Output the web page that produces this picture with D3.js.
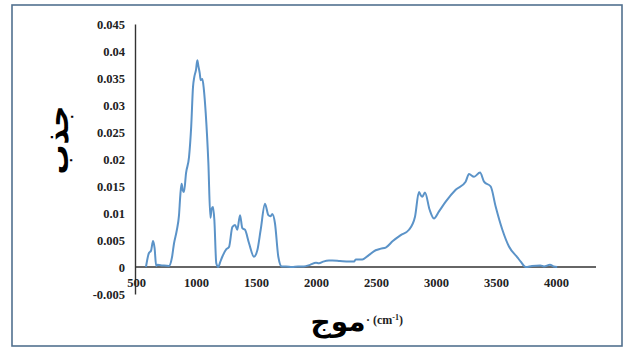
<!DOCTYPE html>
<html><head><meta charset="utf-8">
<script src="https://cdn.jsdelivr.net/npm/d3@7"></script>
<style>body{margin:0;background:#fff}svg{display:block}</style>
</head><body>
<svg id="c" width="633" height="349"></svg>
<script>
const wavenumbers = [583,608,625,642,655,668,680,720,775,800,817,840,858,870,880,890,900,917,942,960,975,986,1000,1011,1020,1031,1039,1053,1065,1081,1103,1120,1131,1142,1153,1169,1186,1200,1219,1253,1275,1303,1325,1344,1367,1386,1408,1442,1483,1511,1539,1575,1603,1620,1636,1658,1686,1714,1750,1800,1850,1900,1950,2000,2025,2060,2108,2136,2200,2275,2317,2331,2386,2440,2497,2540,2581,2640,2706,2775,2825,2858,2872,2886,2908,2947,2983,3025,3081,3164,3247,3275,3317,3367,3400,3456,3497,3553,3608,3678,3706,3747,3800,3870,3900,3950,3980,4010];
const absorbance = [0,0.0026,0.003,0.0048,0.0035,0.0002,0.0004,0.0003,0.0002,0.0018,0.0044,0.0068,0.0095,0.0135,0.0154,0.0142,0.0139,0.0174,0.0204,0.026,0.0333,0.0352,0.0365,0.0383,0.0372,0.0359,0.0346,0.0348,0.033,0.0285,0.0193,0.0091,0.0108,0.0111,0.0087,0.0007,0,0.0008,0.0019,0.0033,0.0037,0.0074,0.0078,0.0069,0.0096,0.0072,0.0069,0.0044,0.0019,0.0031,0.0069,0.0117,0.0096,0.0094,0.0098,0.0081,0.0019,0.0001,0.0001,0,0.0001,0.0001,0.0004,0.0008,0.0007,0.001,0.0012,0.0012,0.0011,0.001,0.001,0.0014,0.0014,0.0022,0.0031,0.0034,0.0036,0.0048,0.0059,0.0069,0.0093,0.0139,0.0133,0.013,0.0138,0.0106,0.009,0.0103,0.0121,0.0143,0.0158,0.0172,0.0167,0.0175,0.0158,0.0149,0.0112,0.0069,0.0038,0.0018,0.001,0,0.0002,0.0003,0.0001,0.0004,0.0001,0];
const xTicks = [500,1000,1500,2000,2500,3000,3500,4000];
const xTickLabels = ["500","1000","1500","2000","2500","3000","3500","4000"];
const yTicks = [-0.005,0,0.005,0.01,0.015,0.02,0.025,0.03,0.035,0.04,0.045];
const yTickLabels = ["-0.005","0","0.005","0.01","0.015","0.02","0.025","0.03","0.035","0.04","0.045"];
const yTitle = "جذب";
const xTitle = "موج";
const xUnit = "· (cm";

const svg = d3.select("#c");
svg.append("rect").attr("x",12).attr("y",5).attr("width",610).attr("height",341)
  .attr("fill","#fff").attr("stroke","#52718f").attr("stroke-width",1.6);

const x = d3.scaleLinear().domain([500,4325]).range([136,595]);
const y = d3.scaleLinear().domain([-0.005,0.045]).range([294,24]);

const tickFont = "'Liberation Serif', 'Times New Roman', serif";

const yAxis = svg.append("g").attr("transform","translate(135,0)")
  .call(d3.axisLeft(y).tickValues(yTicks).tickSize(0).tickPadding(10)
    .tickFormat((d,i)=>yTickLabels[i]));
const xAxis = svg.append("g").attr("transform",`translate(0,${y(0)})`)
  .call(d3.axisBottom(x).tickValues(xTicks).tickSize(0).tickPadding(11)
    .tickFormat((d,i)=>xTickLabels[i]));
[xAxis,yAxis].forEach(g=>{
  g.select(".domain").attr("stroke","#333").attr("stroke-width",1.4);
  g.selectAll("text").attr("font-family",tickFont).attr("font-weight","bold")
   .attr("font-size","12.5px").attr("fill","#222");
});
xAxis.select(".domain").attr("d",`M136,0H596`);

const line = d3.line().x((d,i)=>x(wavenumbers[i])).y(d=>y(d)).curve(d3.curveMonotoneX);
svg.append("path").datum(absorbance).attr("d",line)
  .attr("fill","none").attr("stroke","#5b93c8").attr("stroke-width",2)
  .attr("stroke-linejoin","round");

svg.append("text").attr("transform","translate(68,140) rotate(-90)")
  .attr("text-anchor","middle").attr("font-family","'DejaVu Sans', 'Noto Sans', sans-serif")
  .attr("font-weight","bold").attr("font-size","30px").attr("fill","#000").text(yTitle);

svg.append("text").attr("x",338).attr("y",331).attr("text-anchor","middle")
  .attr("font-family","'DejaVu Sans', 'Noto Sans', sans-serif")
  .attr("font-weight","bold").attr("font-size","28px").attr("fill","#000").text(xTitle);

const u = svg.append("text").attr("x",366).attr("y",324)
  .attr("font-family",tickFont).attr("font-weight","bold").attr("font-size","12px").attr("fill","#222");
u.append("tspan").text(xUnit);
u.append("tspan").attr("dy",-4).attr("font-size","8px").text("-1");
u.append("tspan").attr("dy",4).text(")");
</script>
</body></html>
